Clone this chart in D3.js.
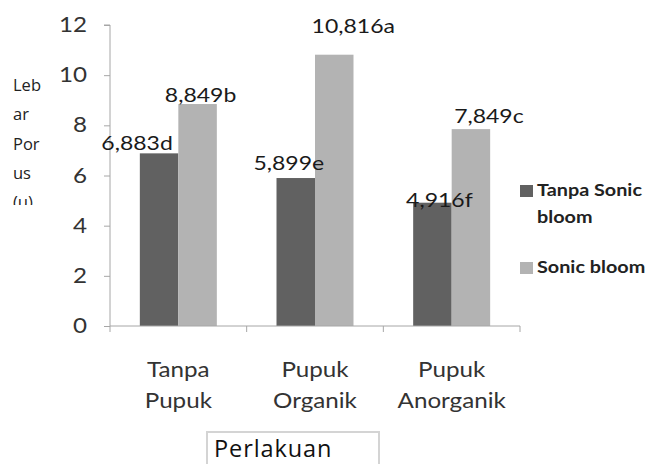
<!DOCTYPE html>
<html>
<head>
<meta charset="utf-8">
<script src="https://cdn.jsdelivr.net/npm/d3@7"></script>
<style>
  html, body { margin: 0; padding: 0; background: #fff; }
  svg { display: block; }
</style>
</head>
<body>
<svg id="chart" width="648" height="464"></svg>
<script>
// Treatments (x categories)
const categories = [["Tanpa", "Pupuk"], ["Pupuk", "Organik"], ["Pupuk", "Anorganik"]];
// Series names
const seriesNames = ["Tanpa Sonic bloom", "Sonic bloom"];
// Mean pore width per treatment
const tanpaSonic = [6.883, 5.899, 4.916];
const sonicBloom = [8.849, 10.816, 7.849];
// Significance letters
const lettersTanpa = ["d", "e", "f"];
const lettersSonic = ["b", "a", "c"];
// Y ticks
const yTicks = [0, 2, 4, 6, 8, 10, 12];

// Hand-placed label nudges per series: [dx from bar centre, lift above bar top]
const labelNudge = [
  [[-22, 3], [-7, 8], [7, -4]],
  [[3, 2.5], [19, 22], [18, 6]]
];

const colors = ["#616161", "#b3b3b3"];
const fmt = v => v.toFixed(3).replace(".", ",");
const SX = 1.18; // horizontal stretch of the chart lettering

const svg = d3.select("#chart");
const m = { left: 110, right: 520, top: 25, bottom: 326 };

const x0 = d3.scaleBand().domain(d3.range(categories.length)).range([m.left, m.right]).padding(0);
const x1 = d3.scaleBand().domain([0, 1]).range([0, x0.bandwidth()]).paddingInner(0).paddingOuter(0.775);
const y = d3.scaleLinear().domain([0, 12]).range([m.bottom, m.top]);

const series = [tanpaSonic, sonicBloom];
const letters = [lettersTanpa, lettersSonic];

// Stretched text helper
function label(parent, x, yy, str, o) {
  return parent.append("text")
    .attr("transform", `translate(${x},${yy}) scale(${o.sx || SX},1)`)
    .attr("text-anchor", o.anchor || "start")
    .attr("font-family", o.family || "Lato, 'Open Sans', sans-serif")
    .attr("font-weight", o.weight || "normal")
    .attr("font-size", o.size)
    .attr("fill", o.fill || "#222")
    .text(str);
}

// Bars
series.forEach((vals, s) => {
  svg.append("g").selectAll("rect").data(vals).join("rect")
    .attr("x", (d, i) => x0(i) + x1(s))
    .attr("y", d => y(d))
    .attr("width", x1.bandwidth())
    .attr("height", d => y(0) - y(d))
    .attr("fill", colors[s]);
});

// Y axis
const yAxis = d3.axisLeft(y).tickValues(yTicks).tickSize(6).tickFormat("");
const gy = svg.append("g").attr("transform", `translate(${m.left},0)`).call(yAxis);
gy.select(".domain").attr("stroke", "#a6a6a6").attr("d", `M-6,${m.top}H0V${m.bottom + 6}`);
gy.selectAll(".tick line").attr("stroke", "#a6a6a6");
yTicks.forEach(t => label(svg, 87, y(t) + 7, d3.format("d")(t),
  { anchor: "end", size: 20.5, fill: "#333" }));

// X axis line and category boundary ticks
const gx = svg.append("g");
gx.append("line").attr("x1", m.left).attr("x2", m.right)
  .attr("y1", y(0)).attr("y2", y(0)).attr("stroke", "#a6a6a6");
gx.selectAll("line.b").data(d3.range(1, categories.length + 1)).join("line")
  .attr("class", "b")
  .attr("x1", i => m.left + i * x0.step()).attr("x2", i => m.left + i * x0.step())
  .attr("y1", y(0)).attr("y2", y(0) + 6).attr("stroke", "#a6a6a6");

// Category labels
categories.forEach((lines, i) => {
  lines.forEach((ln, k) => label(svg, x0(i) + x0.bandwidth() / 2, 377 + k * 31, ln,
    { anchor: "middle", size: 20.5, fill: "#333" }));
});

// Value labels
series.forEach((vals, s) => {
  vals.forEach((v, i) => {
    const [dx, dy] = labelNudge[s][i];
    label(svg, x0(i) + x1(s) + x1.bandwidth() / 2 + dx, y(v) - dy,
      fmt(v) + letters[s][i], { anchor: "middle", size: 19.5, fill: "#1a1a1a" });
  });
});

// Y axis title, wrapped in a narrow clipped box
svg.append("clipPath").attr("id", "ylabClip")
  .append("rect").attr("x", 0).attr("y", 60).attr("width", 60).attr("height", 145);
const ylab = svg.append("text")
  .attr("clip-path", "url(#ylabClip)")
  .attr("font-family", "'Open Sans', sans-serif")
  .attr("font-size", 16.5)
  .attr("fill", "#222");
["Leb", "ar", "Por", "us", "(\u00b5)"].forEach((ln, k) =>
  ylab.append("tspan").attr("x", 13).attr("y", 91 + k * 29.3).text(ln));

// Legend
const legend = svg.append("g");
const legendRows = [
  { lines: ["Tanpa Sonic", "bloom"], y: 185 },
  { lines: ["Sonic bloom"], y: 262 }
];
legendRows.forEach((row, s) => {
  legend.append("rect").attr("x", 520).attr("y", row.y).attr("width", 13).attr("height", 12)
    .attr("fill", colors[s]);
  row.lines.forEach((ln, k) => label(legend, 537, row.y + 11 + k * 27, ln,
    { size: 16.5, weight: "bold", fill: "#222", sx: 1.2 }));
});

// X axis title in a framed box
svg.append("rect").attr("x", 207).attr("y", 432).attr("width", 172).attr("height", 40)
  .attr("fill", "#fff").attr("stroke", "#d4d4d4").attr("stroke-width", 2);
svg.append("text")
  .attr("x", 214).attr("y", 457)
  .attr("font-family", "'Open Sans', sans-serif")
  .attr("font-size", 23.5)
  .attr("letter-spacing", 0.9)
  .attr("fill", "#111")
  .text("Perlakuan");
</script>
</body>
</html>
